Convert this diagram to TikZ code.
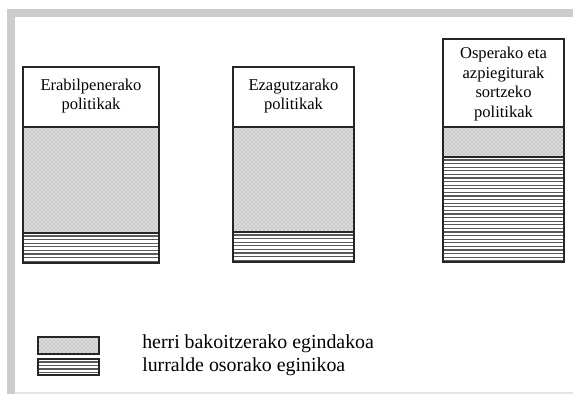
\documentclass[tikz,border=0pt]{standalone}
\usepackage{fontspec}
\setmainfont{Liberation Serif}
\usetikzlibrary{patterns}
\begin{document}
\begin{tikzpicture}[x=0.75pt,y=-0.75pt,
  outline/.style={draw=black!85,line width=1.1pt},
  dotfill/.style={fill=black!13,postaction={pattern=crosshatch dots,pattern color=black!50}},
  hatchline/.style={draw=black!65,line width=0.95pt},
  headtext/.style={align=center,font=\fontsize{12.4}{14.6}\selectfont,inner sep=0pt},
  legtext/.style={anchor=base west,inner sep=0pt,font=\fontsize{14.9}{17}\selectfont}]
\useasboundingbox (0,0) rectangle (573,394);
% frame
\fill[black!20] (7,9) rectangle (573,17);
\fill[black!20] (7,9) rectangle (15,394);
\draw[black!10,line width=0.8pt] (15,393) -- (573,393);
% column 1
\path[dotfill] (23,127) rectangle (159,233);
\foreach \yy in {236,239.6,...,262} \draw[hatchline] (23,\yy) -- (159,\yy);
\draw[outline] (23,67) rectangle (159,263);
\draw[outline] (23,127) -- (159,127);
\draw[outline] (23,233) -- (159,233);
\node[headtext] (h1) at (91,96) {Erabilpenerako\\politikak};
% column 2
\path[dotfill] (233,127) rectangle (354,232);
\foreach \yy in {235,238.6,...,261} \draw[hatchline] (233,\yy) -- (354,\yy);
\draw[outline] (233,67) rectangle (354,262);
\draw[outline] (233,127) -- (354,127);
\draw[outline] (233,232) -- (354,232);
\node[headtext] (h2) at (293.5,96) {Ezagutzarako\\politikak};
% column 3
\path[dotfill] (443,127) rectangle (564,157);
\foreach \yy in {160,163.6,...,261} \draw[hatchline] (443,\yy) -- (564,\yy);
\draw[outline] (443,39) rectangle (564,262);
\draw[outline] (443,127) -- (564,127);
\draw[outline] (443,157) -- (564,157);
\node[headtext] (h3) at (503.5,84) {Osperako eta\\azpiegiturak\\sortzeko\\politikak};
% legend
\path[dotfill] (38,337) rectangle (99,354);
\draw[outline,line width=0.9pt] (38,337) rectangle (99,354);
\foreach \yy in {362,365.5,...,373} \draw[hatchline] (38,\yy) -- (99,\yy);
\draw[outline,line width=0.9pt] (38,359) rectangle (99,375);
\node[legtext] (l1) at (142,348) {herri bakoitzerako egindakoa};
\node[legtext] (l2) at (142,371) {lurralde osorako eginikoa};
\end{tikzpicture}
\end{document}
